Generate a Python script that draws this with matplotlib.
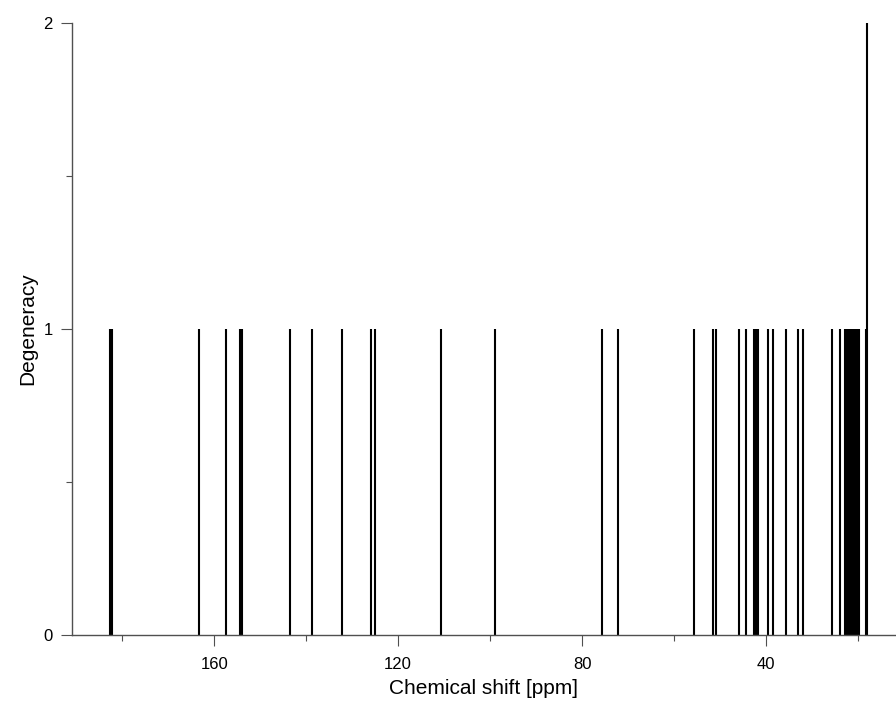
import matplotlib
matplotlib.use("Agg")
import matplotlib.pyplot as plt
from matplotlib.ticker import MultipleLocator

plt.rcParams['font.family'] = ['Liberation Sans', 'DejaVu Sans']

# 13C shifts (ppm) and how many carbons sit at each shift
shifts = [182.7, 182.1, 163.3, 157.5, 154.3, 154.0, 143.5, 138.7, 132.1,
          125.8, 125.1, 110.7, 99.0, 75.7, 72.3, 55.7, 51.6, 50.9,
          45.9, 44.3, 42.7, 42.3, 41.8, 39.5, 38.5, 35.7, 33.1, 32.1,
          25.6, 23.9, 22.9, 22.5, 22.0, 21.6, 21.1, 20.7, 20.3, 19.9,
          18.4, 18.1]
degeneracy = [1, 1, 1, 1, 1, 1, 1, 1, 1,
              1, 1, 1, 1, 1, 1, 1, 1, 1,
              1, 1, 1, 1, 1, 1, 1, 1, 1, 1,
              1, 1, 1, 1, 1, 1, 1, 1, 1, 1,
              1, 2]

spine_col = '#505050'

fig = plt.figure(figsize=(8.96, 7.11), dpi=100)
ax = fig.add_axes([72 / 896, 76 / 711, 823 / 896, 612 / 711])

ax.vlines(shifts, 0, degeneracy, color='black', linewidth=1.5)

ax.set_xlim(190.9, 12.0)
ax.set_ylim(0, 2)

ax.xaxis.set_major_locator(MultipleLocator(40))
ax.xaxis.set_minor_locator(MultipleLocator(20))
ax.yaxis.set_major_locator(MultipleLocator(1))
ax.yaxis.set_minor_locator(MultipleLocator(0.5))

for s in ['top', 'right']:
    ax.spines[s].set_visible(False)
for s in ['left', 'bottom']:
    ax.spines[s].set_color(spine_col)
    ax.spines[s].set_linewidth(1.0)

ax.tick_params(which='major', length=8, width=0.8, color=spine_col,
               labelsize=12, pad=6)
ax.tick_params(which='minor', length=4.5, width=0.8, color=spine_col)
ax.tick_params(axis='x', which='major', pad=8)

ax.set_xlabel('Chemical shift [ppm]', fontsize=15, labelpad=5)
ax.set_ylabel('Degeneracy', fontsize=15, labelpad=4)

fig.savefig('out.png', dpi=100)
